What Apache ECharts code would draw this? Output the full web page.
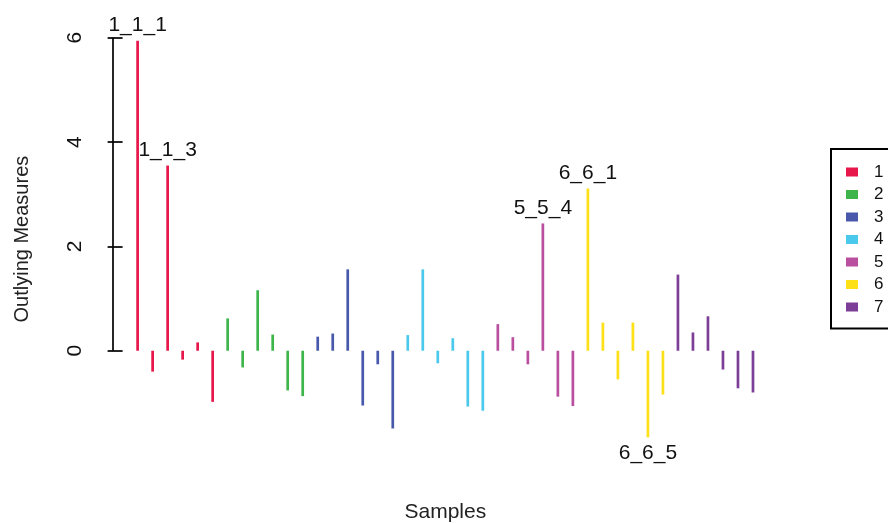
<!DOCTYPE html>
<html>
<head>
<meta charset="utf-8">
<script src="https://cdn.jsdelivr.net/npm/echarts@6/dist/echarts.min.js"></script>
<style>html,body{margin:0;padding:0;background:#fff;overflow:hidden;}#c{width:888px;height:523px;}</style>
</head>
<body>
<div id="c"></div>
<script>
// ---- data ----
const groups = ['1', '2', '3', '4', '5', '6', '7'];
const colors = ['#E8174B', '#3DB54A', '#4859AC', '#4BC9EC', '#BA4FA0', '#FDE015', '#7D3E97'];
const g1 = [5.94, -0.40, 3.55, -0.17, 0.16, -0.98];
const g2 = [0.62, -0.32, 1.16, 0.31, -0.76, -0.87];
const g3 = [0.27, 0.33, 1.56, -1.05, -0.26, -1.49];
const g4 = [0.30, 1.56, -0.24, 0.24, -1.07, -1.15];
const g5 = [0.51, 0.26, -0.26, 2.44, -0.88, -1.06];
const g6 = [3.11, 0.54, -0.55, 0.54, -1.66, -0.84];
const g7 = [1.46, 0.35, 0.66, -0.36, -0.72, -0.80];
const groupValues = [g1, g2, g3, g4, g5, g6, g7];
// sample labels shown (sample index, 1-based -> text)
const labelIdx = [1, 3, 28, 31, 35];
const labelTxt = ['1_1_1', '1_1_3', '5_5_4', '6_6_1', '6_6_5'];
const yTicks = [0, 2, 4, 6];

const nSamples = groupValues.reduce((s, a) => s + a.length, 0);
const FONT = '"Liberation Sans", Arial, sans-serif';

let idx = 0;
const series = groupValues.map((vals, gi) => {
  const data = vals.map(v => {
    idx += 1;
    const item = { value: [idx, v] };
    const li = labelIdx.indexOf(idx);
    if (li >= 0) {
      item.label = {
        show: true,
        formatter: labelTxt[li],
        position: v >= 0 ? 'top' : 'bottom',
        distance: 5,
        color: '#111',
        fontSize: 21,
        fontFamily: FONT
      };
    }
    return item;
  });
  return {
    type: 'bar',
    name: groups[gi],
    data: data,
    barWidth: 2.7,
    barGap: '-100%',
    itemStyle: { color: colors[gi] },
    emphasis: { disabled: true },
    animation: false
  };
});

// y axis line from 0 to 6 (R style axis line between first and last ticks)
const xMin = 1 - 0.04 * (nSamples - 1);
const xMax = nSamples + 0.04 * (nSamples - 1);
series.push({
  type: 'line',
  data: [],
  animation: false,
  silent: true,
  markLine: {
    symbol: ['none', 'none'],
    silent: true,
    label: { show: false },
    lineStyle: { color: '#000', width: 1.7, type: 'solid' },
    data: [[{ coord: [xMin, yTicks[0]] }, { coord: [xMin, yTicks[yTicks.length - 1]] }]]
  }
});

const chart = echarts.init(document.getElementById('c'), null, { renderer: 'canvas' });
chart.setOption({
  backgroundColor: '#fff',
  animation: false,
  textStyle: { fontFamily: FONT },
  grid: { left: 113, right: 110.4, top: 25, bottom: 69.8, containLabel: false, outerBoundsMode: 'none' },
  xAxis: {
    type: 'value',
    min: xMin,
    max: xMax,
    axisLine: { show: false },
    axisTick: { show: false },
    axisLabel: { show: false },
    splitLine: { show: false },
    name: 'Samples',
    nameLocation: 'middle',
    nameGap: 49,
    nameTextStyle: { fontSize: 21, color: '#222', fontFamily: FONT }
  },
  yAxis: {
    type: 'value',
    min: -1.964,
    max: 6.244,
    axisLine: { show: false },
    axisTick: { show: true, customValues: yTicks, length: 15, lineStyle: { color: '#000', width: 1.7 } },
    axisLabel: { show: true, customValues: yTicks, rotate: 90, margin: 27, fontSize: 21, color: '#111', fontFamily: FONT },
    splitLine: { show: false },
    name: 'Outlying Measures',
    nameLocation: 'middle',
    nameGap: 81,
    nameTextStyle: { fontSize: 20, color: '#222', fontFamily: FONT }
  },
  legend: {
    data: groups,
    orient: 'vertical',
    left: 831,
    top: 149,
    icon: 'rect',
    itemWidth: 12,
    itemHeight: 9,
    itemGap: 5.5,
    padding: [14.5, 40, 13, 15],
    borderColor: '#000',
    borderWidth: 2,
    borderRadius: 0,
    selectedMode: false,
    textStyle: { fontSize: 17, lineHeight: 16, color: '#111', fontFamily: FONT, padding: [0, 0, 0, 11] }
  },
  series: series
});
</script>
</body>
</html>
